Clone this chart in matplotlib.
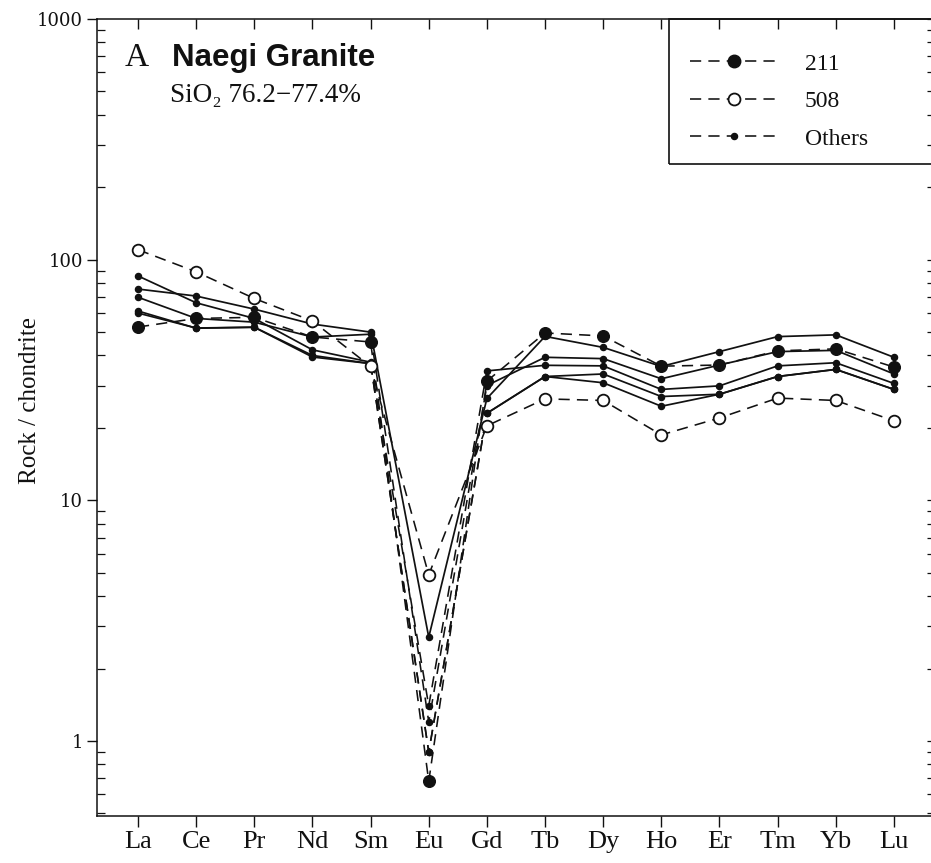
import matplotlib
matplotlib.use('Agg')
import matplotlib.pyplot as plt
import numpy as np
from matplotlib.lines import Line2D
from matplotlib.patches import Rectangle
from matplotlib.ticker import NullFormatter, LogLocator

# ---------------- data ----------------
elements = ['La', 'Ce', 'Pr', 'Nd', 'Sm', 'Eu', 'Gd', 'Tb', 'Dy', 'Ho', 'Er', 'Tm', 'Yb', 'Lu']
s211 = [52.5, 57, 57.6, 47.7, 45.5, 0.68, 31.3, 49.6, 48.2, 36.1, 36.5, 41.8, 42.6, 35.8]
s508 = [110, 89, 69, 55.6, 36, 4.9, 20.4, 26.4, 26, 18.7, 22, 26.6, 26, 21.4]
other1 = [85.6, 66.2, 57, 42.2, 37.5, 1.4, 34.5, 36.4, 36.2, 28.9, 29.9, 36.2, 37.3, 30.6]
other2 = [75.5, 70.6, 62.3, 54, 50, 2.7, 26.5, 48, 43.2, 36, 41.5, 47.9, 48.7, 39.3]
other3 = [69.8, 57, 55, 47.7, 49, 1.2, 30, 39.3, 38.8, 32, 36.5, 41.5, 42, 33.5]
other4 = [61.2, 51.9, 52.4, 39.4, 37, 0.9, 23, 32.7, 33.5, 27, 27.6, 32.7, 35, 28.9]
other5 = [60, 52, 52.4, 40, 37, 0.9, 23, 32.7, 30.8, 24.6, 27.6, 32.7, 35, 28.9]
others = [other1, other2, other3, other4, other5]
others_eu_dashed = [True, False, True, True, True]
legend_labels = ['211', '508', 'Others']
ytick_vals = [1, 10, 100, 1000]
ytick_labels = ['1', '10', '100', '1000']

# ---------------- style ----------------
ink = '#111111'
dash = (0, (7, 4.5))
serif = ['Liberation Serif', 'DejaVu Serif']

fig = plt.figure(figsize=(9.31, 8.63), dpi=100)
fig.patch.set_facecolor('white')
ax = fig.add_axes([97 / 931, 47 / 863, 838 / 931, 797 / 863])
ax.set_yscale('log')
ax.set_xlim(-0.705, 13.706)
ax.set_ylim(0.488, 1000)

x = np.arange(len(elements))

# others
for vals, eu_dashed in zip(others, others_eu_dashed):
    v = np.array(vals, float)
    if eu_dashed:
        solid = v.copy()
        solid[5] = np.nan
        ax.plot(x, solid, color=ink, lw=1.25, ls='-', zorder=2)
        ax.plot(x[4:7], v[4:7], color=ink, lw=1.15, ls=dash, zorder=2)
    else:
        ax.plot(x, v, color=ink, lw=1.25, ls='-', zorder=2)
    ax.plot(x, v, ls='none', marker='o', ms=4.4, color=ink, zorder=3)

# 211
ax.plot(x, s211, color=ink, lw=1.15, ls=dash, marker='o', ms=8.4,
        mfc=ink, mec=ink, zorder=4)
# 508
ax.plot(x, s508, color=ink, lw=1.15, ls=dash, marker='o', ms=8.4,
        mfc='white', mec=ink, mew=1.3, zorder=5)

# ---------------- axes / ticks ----------------
for sp in ax.spines.values():
    sp.set_linewidth(1.1)
    sp.set_color(ink)

ax.set_xticks(x)
ax.set_xticklabels(elements, fontsize=19, family=serif)
ax.tick_params(axis='x', which='major', direction='out', length=8, width=1.0,
               pad=3, colors=ink, top=False)
ax.set_yticks(ytick_vals)
ax.set_yticklabels(ytick_labels, fontsize=13, family=['DejaVu Serif'])
ax.yaxis.set_minor_locator(LogLocator(base=10, subs=np.arange(2, 10)))
ax.yaxis.set_minor_formatter(NullFormatter())
ax.tick_params(axis='y', which='major', direction='out', length=7, width=1.0,
               pad=3, colors=ink, right=False)
ax.tick_params(axis='y', which='minor', direction='in', length=6, width=0.9,
               colors=ink, right=False)

# top ticks (inward)
axt = ax.twiny()
axt.set_xlim(ax.get_xlim())
axt.set_xticks(x)
axt.set_xticklabels([])
axt.tick_params(axis='x', direction='in', length=7, width=1.0, colors=ink)
# right ticks (inward)
axr = ax.twinx()
axr.set_yscale('log')
axr.set_ylim(ax.get_ylim())
axr.set_yticks(ytick_vals)
axr.set_yticklabels([])
axr.yaxis.set_minor_locator(LogLocator(base=10, subs=np.arange(2, 10)))
axr.yaxis.set_minor_formatter(NullFormatter())
axr.tick_params(axis='y', which='both', direction='in', length=6, width=0.9, colors=ink)
for a in (axt, axr):
    for sp in a.spines.values():
        sp.set_visible(False)

# ---------------- labels ----------------
fig.text(30 / 931, 1 - 400 / 863, 'Rock / chondrite', rotation=90, ha='center',
         va='center', fontsize=18, family=serif, color=ink)
ax.text(0.0334, 0.941, 'A', transform=ax.transAxes, fontsize=24, family=serif,
        va='baseline', ha='left', color=ink)
ax.text(0.0895, 0.941, 'Naegi Granite', transform=ax.transAxes, fontsize=22.5,
        family=['Liberation Sans', 'DejaVu Sans'], fontweight='bold',
        va='baseline', ha='left', color=ink)
ax.text(0.087, 0.896, 'SiO\u2082 76.2\u221277.4%', transform=ax.transAxes,
        fontsize=19.5, family=serif, va='baseline', ha='left', color=ink)

# ---------------- legend ----------------
handles = [
    Line2D([], [], color=ink, lw=1.15, ls=dash, marker='o', ms=9, mfc=ink, mec=ink),
    Line2D([], [], color=ink, lw=1.15, ls=dash, marker='o', ms=8.6, mfc='white',
           mec=ink, mew=1.3),
    Line2D([], [], color=ink, lw=1.15, ls=dash, marker='o', ms=4.4, mfc=ink, mec=ink),
]
leg = ax.legend(handles, legend_labels, loc='upper left',
                bbox_to_anchor=((690 - 97) / 838, (816 - 53) / 797),
                frameon=False, borderpad=0, borderaxespad=0, handlelength=3.7,
                handletextpad=1.15, labelspacing=0.68,
                prop={'family': serif, 'size': 17})
for t in leg.get_texts():
    t.set_color(ink)
box = Rectangle(((669 - 97) / 838, (816 - 164) / 797), 1 - (669 - 97) / 838,
                1 - (816 - 164) / 797, transform=ax.transAxes, fill=False,
                ec=ink, lw=1.2, clip_on=False, zorder=6)
ax.add_patch(box)

fig.savefig('out.png', dpi=100, facecolor='white')
